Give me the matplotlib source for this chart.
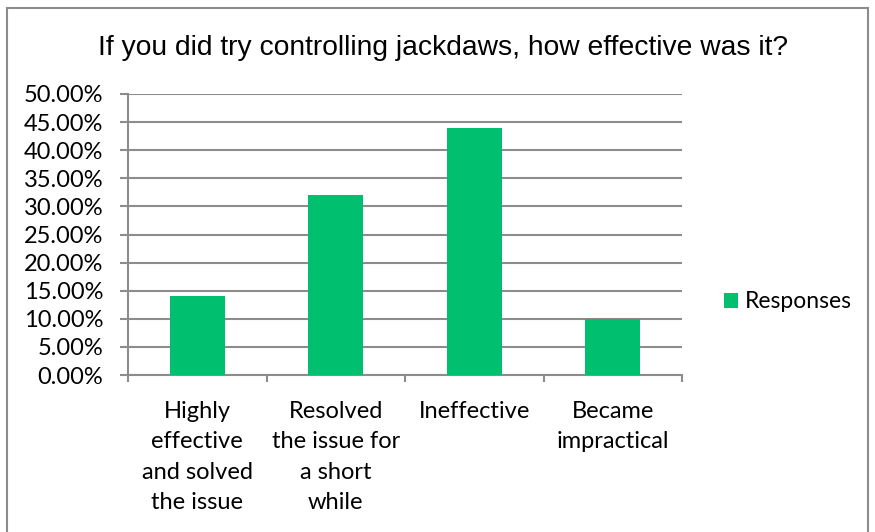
import matplotlib
matplotlib.use("Agg")
import matplotlib.pyplot as plt
from matplotlib.patches import Rectangle
from matplotlib.ticker import FuncFormatter

categories = ["Highly\neffective\nand solved\nthe issue", "Resolved\nthe issue for\na short\nwhile",
              "Ineffective", "Became\nimpractical"]
values = [0.14, 0.32, 0.44, 0.10]
yticks = [0.0, 0.05, 0.10, 0.15, 0.20, 0.25, 0.30, 0.35, 0.40, 0.45, 0.50]
series_name = "Responses"
title = "If you did try controlling jackdaws, how effective was it?"

W, H = 875, 532
fig = plt.figure(figsize=(W/100, H/100), dpi=100)
ax = fig.add_axes([128/W, 1-375/H, (682-128)/W, (375-94)/H])

grid_c = "#8c8c8c"
lab_font = "Lato"
fs = 17
x = list(range(len(categories)))
ax.bar(x, values, width=0.40, color="#00BF6F", label=series_name, zorder=3)
ax.set_xlim(-0.5, len(categories)-0.5)
ax.set_ylim(0, 0.5)
ax.set_yticks(yticks)
ax.yaxis.set_major_formatter(FuncFormatter(lambda v, p: f"{v*100:.2f}%"))
ax.yaxis.grid(True, color=grid_c, linewidth=1.5, zorder=0)
ax.tick_params(axis="y", length=5.8, width=1.5, color=grid_c, pad=12, labelsize=fs)
for lbl in ax.get_yticklabels():
    lbl.set_family(lab_font)
ax.set_xticks([i - 0.5 for i in range(len(categories)+1)])
ax.set_xticklabels([])
ax.tick_params(axis="x", length=5, width=1.5, color=grid_c)
for i, c in enumerate(categories):
    ax.text(i, -0.046, c, ha="center", va="top", fontsize=fs, family=lab_font,
            linespacing=1.55, transform=ax.transData)
for s in ["top", "right"]:
    ax.spines[s].set_visible(False)
for s in ["left", "bottom"]:
    ax.spines[s].set_color(grid_c)
    ax.spines[s].set_linewidth(1.5)

fig.text(443/W, 1-48/H, title, ha="center", va="center", fontsize=20.3, family="Liberation Sans")

leg = fig.legend(loc="center left", bbox_to_anchor=(724/W, 1-302/H), frameon=False,
                 borderpad=0, borderaxespad=0,
                 prop={"family": lab_font, "size": 16.5}, handlelength=0.6, handleheight=0.6,
                 handletextpad=0.3)

fig.patches.append(Rectangle((7/W, -0.1), (868-7)/W, 1.1-8/H, transform=fig.transFigure,
                             fill=False, edgecolor=grid_c, linewidth=1.5))
fig.savefig("out.png", dpi=100)
